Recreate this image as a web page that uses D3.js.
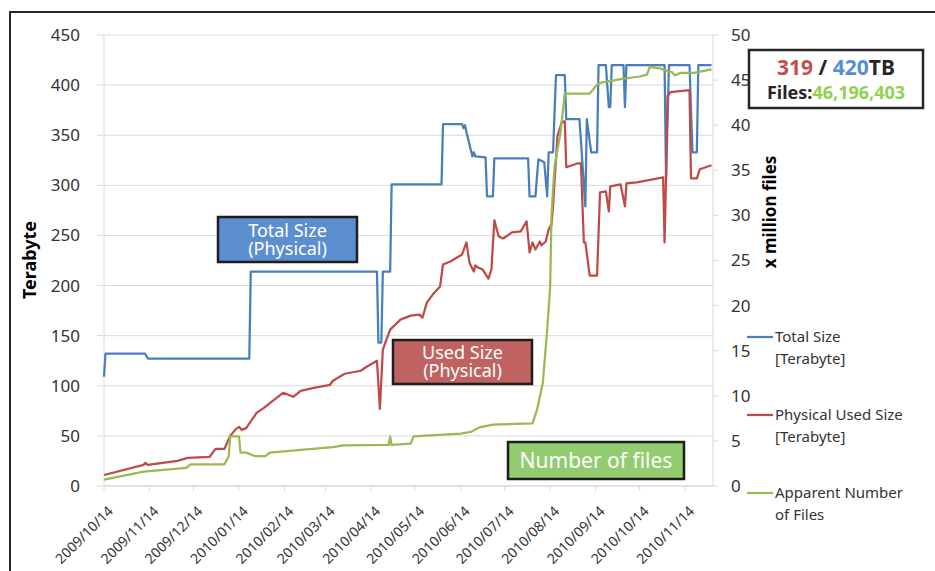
<!DOCTYPE html>
<head>
  <title>Storage: Total / Used Size and Number of Files</title>
  <style>
    body { margin: 0; background: #fff; }
    text { font-family: "Noto Sans", sans-serif; }
  </style>
</head>
<body>
  <script src="https://cdn.jsdelivr.net/npm/d3@7"></script>
  <script>
    // values, days counted from 2009/10/14
    var startDate = "2009/10/14";

    var totalDay = [0,1,28,30,99,100,186,187,189,190,195,196,230,231,244,245,246,247,249,251,252,253,260,261,265,266,289,290,294,296,300,302,303,306,308,314,315,324,328,329,332,336,337,342,344,345,346,354,355,356,382,383,385,399,401,404,405,414];
    var totalTB = [109,132,132,127,127,214,214,143,143,214,214,301,301,361,361,357,360,353,341,329,333,329,328,289,289,327,327,289,289,326,323,289,333,333,410,410,366,366,279,366,333,333,420,420,378,378,420,420,378,420,420,305,420,420,333,333,420,420];

    var usedDay = [0,27,28,30,50,57,72,76,82,86,90,92,94,97,104,109,115,122,129,134,143,154,156,164,175,179,186,188,190,195,202,209,215,217,220,224,229,231,236,244,247,249,252,253,255,258,262,264,266,269,272,278,284,288,290,292,294,297,298,301,303,305,306,309,312,314,315,323,325,327,328,331,336,338,342,344,345,352,355,356,363,374,381,382,383,384,386,399,400,404,406,414];
    var usedTB = [11,21,23,21,25,28,29,37,37,50,57,59,56,58,73,78,85,93,89,95,98,101,105,112,115,119,125,77,136,156,166,170,171,168,183,191,199,221,224,231,243,223,214,220,218,216,207,216,265,249,247,253,254,264,233,243,236,244,240,244,256,261,280,349,363,364,318,322,322,243,243,210,210,293,294,274,299,301,279,302,303,306,308,243,309,389,393,395,307,307,316,320];

    var filesDay = [0,27,56,59,82,85,86,92,93,97,103,110,113,134,156,163,194,195,196,209,211,243,250,256,265,292,295,299,302,304,305,307,311,314,331,336,338,352,365,370,372,374,379,384,387,389,393,402,414];
    var filesM = [0.7,1.6,2.0,2.4,2.4,3.3,5.5,5.5,3.7,3.7,3.3,3.3,3.7,4.0,4.3,4.5,4.55,5.5,4.55,4.7,5.5,5.8,6.0,6.5,6.8,6.95,8.4,11.4,17.3,22,30.2,35.4,39.1,43.5,43.5,44.5,44.7,45.1,45.4,45.6,46.5,46.4,46.3,46.0,45.9,45.5,45.8,45.8,46.2];

    var monthTicks = ["2009/10/14","2009/11/14","2009/12/14","2010/01/14","2010/02/14","2010/03/14","2010/04/14","2010/05/14","2010/06/14","2010/07/14","2010/08/14","2010/09/14","2010/10/14","2010/11/14"];
    var leftTicks = [0,50,100,150,200,250,300,350,400,450];
    var rightTicks = [0,5,10,15,20,25,30,35,40,45,50];

    var seriesNames = [["Total Size","[Terabyte]"],["Physical Used Size","[Terabyte]"],["Apparent Number","of Files"]];
    var seriesColors = ["#4a7ebb", "#be4b48", "#98b954"];

    // latest totals shown in the box top right
    var latestUsed = "319", latestTotal = "420", latestFiles = "46,196,403";

    var W = 935, H = 571;
    var margin = {top: 35, right: 222, bottom: 85, left: 104};
    var plotW = W - margin.left - margin.right,
        plotH = H - margin.top - margin.bottom;

    var parse = d3.timeParse("%Y/%m/%d");
    var start = parse(startDate);
    function toDate(d) { return d3.timeDay.offset(start, d); }

    var xScale = d3.scaleTime().domain([start, toDate(415)]).range([0, plotW]),
        yLeft = d3.scaleLinear().domain([0, 450]).range([plotH, 0]),
        yRight = d3.scaleLinear().domain([0, 50]).range([plotH, 0]);

    var svg = d3.select("body").append("svg")
      .attr("width", W)
      .attr("height", H);

    // outer frame
    svg.append("rect")
      .attr("x", 10).attr("y", 12)
      .attr("width", W + 20).attr("height", H + 20)
      .attr("fill", "none")
      .attr("stroke", "#262626")
      .attr("stroke-width", 2);

    var g = svg.append("g")
      .attr("transform", "translate(" + margin.left + "," + margin.top + ")");

    // gridlines + left ticks
    g.append("g").selectAll("line")
      .data(leftTicks)
      .enter().append("line")
      .attr("x1", -7).attr("x2", plotW)
      .attr("y1", function(d) { return yLeft(d); })
      .attr("y2", function(d) { return yLeft(d); })
      .attr("stroke", "#d9d9d9");

    g.append("g").selectAll("text")
      .data(leftTicks)
      .enter().append("text")
      .attr("x", -24)
      .attr("y", function(d) { return yLeft(d); })
      .attr("dy", "0.35em")
      .attr("text-anchor", "end")
      .style("font-size", "17px")
      .attr("fill", "#333")
      .text(function(d) { return d; });

    // axis lines
    g.append("line").attr("x1", 0).attr("x2", 0).attr("y1", 0).attr("y2", plotH).attr("stroke", "#d9d9d9");
    g.append("line").attr("x1", plotW).attr("x2", plotW).attr("y1", 0).attr("y2", plotH).attr("stroke", "#d9d9d9");
    g.append("line").attr("x1", 0).attr("x2", plotW).attr("y1", plotH).attr("y2", plotH).attr("stroke", "#d9d9d9");

    // right axis
    g.append("g").selectAll("line")
      .data(rightTicks)
      .enter().append("line")
      .attr("x1", plotW).attr("x2", plotW + 5)
      .attr("y1", function(d) { return yRight(d); })
      .attr("y2", function(d) { return yRight(d); })
      .attr("stroke", "#d9d9d9");

    g.append("g").selectAll("text")
      .data(rightTicks)
      .enter().append("text")
      .attr("x", plotW + 18)
      .attr("y", function(d) { return yRight(d); })
      .attr("dy", "0.35em")
      .style("font-size", "17px")
      .attr("fill", "#333")
      .text(function(d) { return d; });

    // x axis ticks + rotated labels
    var xt = g.append("g").attr("transform", "translate(0," + plotH + ")");
    xt.selectAll("line")
      .data(monthTicks)
      .enter().append("line")
      .attr("x1", function(d) { return xScale(parse(d)); })
      .attr("x2", function(d) { return xScale(parse(d)); })
      .attr("y1", 0).attr("y2", 5)
      .attr("stroke", "#d9d9d9");

    xt.selectAll("text")
      .data(monthTicks)
      .enter().append("text")
      .attr("transform", function(d) { return "translate(" + (xScale(parse(d)) + 10) + ",26)rotate(-45)"; })
      .attr("text-anchor", "end")
      .style("font-size", "14px")
      .attr("fill", "#333")
      .text(function(d) { return d; });

    // axis titles
    svg.append("text")
      .attr("transform", "translate(36,260)rotate(-90)")
      .attr("text-anchor", "middle")
      .style("font-size", "18px")
      .style("font-weight", "bold")
      .text("Terabyte");

    svg.append("text")
      .attr("transform", "translate(776,212)rotate(-90)")
      .attr("text-anchor", "middle")
      .style("font-size", "17px")
      .style("font-weight", "bold")
      .text("x million files");

    // series lines
    var series = [
      {day: totalDay, val: totalTB, y: yLeft},
      {day: usedDay, val: usedTB, y: yLeft},
      {day: filesDay, val: filesM, y: yRight}
    ];

    series.forEach(function(s, i) {
      var pts = s.day.map(function(d, k) { return {date: toDate(d), v: s.val[k]}; });
      var line = d3.line()
        .x(function(d) { return xScale(d.date); })
        .y(function(d) { return s.y(d.v); });
      g.append("path")
        .attr("d", line(pts))
        .attr("fill", "none")
        .attr("stroke", seriesColors[i])
        .attr("stroke-width", 2.25)
        .attr("stroke-linejoin", "round");
    });

    // annotation boxes
    var notes = [
      {x: 218, y: 217, w: 139, h: 45, fill: "#5b8fcf", size: 18, lines: ["Total Size", "(Physical)"]},
      {x: 393, y: 340, w: 139, h: 44, fill: "#c0625f", size: 18, lines: ["Used Size", "(Physical)"]},
      {x: 508, y: 442, w: 176, h: 37, fill: "#92cc6e", size: 21, lines: ["Number of files"]}
    ];
    notes.forEach(function(n) {
      svg.append("rect")
        .attr("x", n.x).attr("y", n.y)
        .attr("width", n.w).attr("height", n.h)
        .attr("fill", n.fill)
        .attr("stroke", "#1e1e1e")
        .attr("stroke-width", 2.5);
      var lh = 18, y0 = n.y + n.h / 2 - (n.lines.length - 1) * lh / 2;
      n.lines.forEach(function(l, k) {
        svg.append("text")
          .attr("text-anchor", "middle")
          .attr("fill", "#fff")
          .style("font-size", n.size + "px")
          .attr("x", n.x + n.w / 2)
          .attr("y", y0 + k * lh)
          .attr("dy", "0.36em")
          .text(l);
      });
    });

    // legend
    var legendY = [337, 415, 493];
    seriesNames.forEach(function(name, i) {
      svg.append("line")
        .attr("x1", 747).attr("x2", 773)
        .attr("y1", legendY[i]).attr("y2", legendY[i])
        .attr("stroke", seriesColors[i])
        .attr("stroke-width", 2.25);
      name.forEach(function(l, k) {
        svg.append("text")
          .style("font-size", "15px")
          .attr("fill", "#333")
          .attr("x", 775).attr("y", legendY[i] + 5 + k * 22)
          .text(l);
      });
    });

    // summary box
    svg.append("rect")
      .attr("x", 749).attr("y", 50)
      .attr("width", 174).attr("height", 58)
      .attr("fill", "#fff")
      .attr("stroke", "#262626")
      .attr("stroke-width", 2.5);

    var s1 = svg.append("text")
      .attr("x", 836).attr("y", 75)
      .attr("text-anchor", "middle")
      .style("font-size", "21px")
      .style("font-weight", "bold")
      .attr("fill", "#262626");
    s1.append("tspan").attr("fill", "#c0504d").text(latestUsed);
    s1.append("tspan").text(" / ");
    s1.append("tspan").attr("fill", "#558ed5").text(latestTotal);
    s1.append("tspan").text("TB");

    var s2 = svg.append("text")
      .attr("x", 836).attr("y", 99)
      .attr("text-anchor", "middle")
      .style("font-size", "18px")
      .style("font-weight", "bold")
      .attr("fill", "#262626");
    s2.append("tspan").text("Files:");
    s2.append("tspan").attr("fill", "#92d050").text(latestFiles);
  </script>
</body>
